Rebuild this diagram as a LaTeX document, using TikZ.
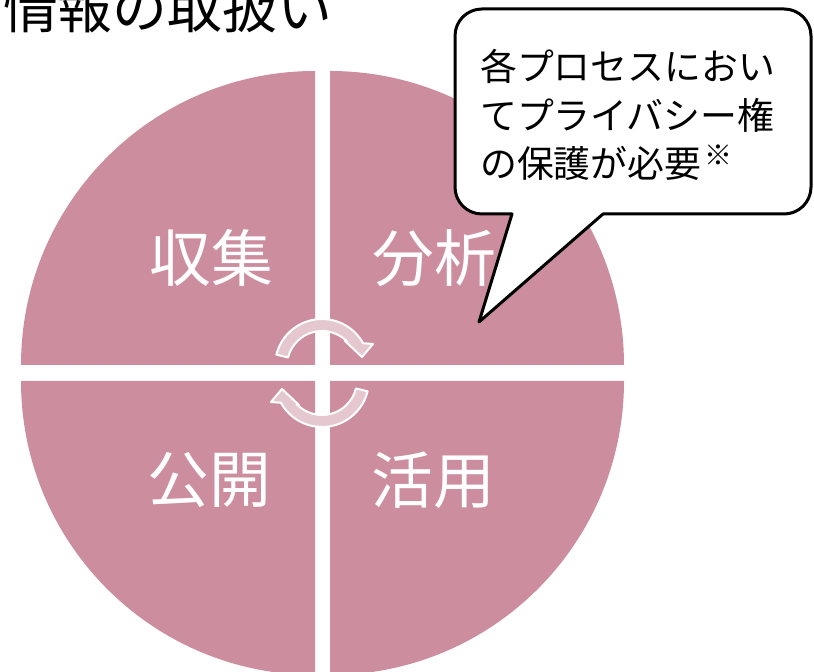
\documentclass[tikz,border=0pt]{standalone}
\usepackage{fontspec}
\setmainfont{Noto Sans CJK JP}
\definecolor{pie}{RGB}{204,142,159}
\definecolor{arrowfill}{RGB}{229,199,207}
\begin{document}
\begin{tikzpicture}[x=1bp,y=1bp,
  quad/.style={fill=pie, draw=none},
  qlabel/.style={text=white, font=\fontsize{62}{70}\selectfont, inner sep=0},
  cyc/.style={fill=arrowfill, draw=white, line width=2bp, line join=round},
  bubble/.style={fill=white, draw=black, line width=3bp, line join=round},
  notetext/.style={anchor=base west, inner sep=0, align=left, font=\fontsize{37}{49}\selectfont},
  titletext/.style={anchor=base west, inner sep=0, font=\fontsize{55}{60}\selectfont}]
\clip (0,0) rectangle (814,672);
% quadrants
\fill[quad] (315,307) -- ++(-294,0) arc[start angle=180,end angle=90,radius=294] -- cycle;
\fill[quad] (330,307) -- ++(0,294) arc[start angle=90,end angle=0,radius=294] -- cycle;
\fill[quad] (315,291) -- ++(-294,0) arc[start angle=180,end angle=270,radius=294] -- cycle;
\fill[quad] (330,291) -- ++(0,-294) arc[start angle=270,end angle=360,radius=294] -- cycle;
% cycle arrows
\begin{scope}[shift={(322,306)}]
  \draw[cyc] (166:47) arc[start angle=166,end angle=29,radius=47] -- (51,22) -- (40,9) -- (23,25) -- (43:35) arc[start angle=43,end angle=166,radius=35] -- cycle;
\end{scope}
\begin{scope}[shift={(322,292)}, rotate=180]
  \draw[cyc] (166:47) arc[start angle=166,end angle=29,radius=47] -- (51,22) -- (40,9) -- (23,25) -- (43:35) arc[start angle=43,end angle=166,radius=35] -- cycle;
\end{scope}
% labels
\node[qlabel] (collect) at (211,414) {収集};
\node[qlabel] (analyze) at (434,414) {分析};
\node[qlabel] (publish) at (209,192) {公開};
\node[qlabel] (use) at (433,192) {活用};
% title
\node[titletext] (title) at (3,643) {情報の取扱い};
% callout
\draw[bubble] (512,458) [rounded corners=27] -- (455,458) -- (455,663) -- (811,663) -- (811,458) [sharp corners] -- (603,458) -- (479,350) -- cycle;
\node[notetext] (note) at (480,494) {各プロセスにおい\\てプライバシー権\\の保護が必要\hspace{3bp}\raisebox{12bp}{\fontsize{28}{28}\selectfont ※}};
\end{tikzpicture}
\end{document}
